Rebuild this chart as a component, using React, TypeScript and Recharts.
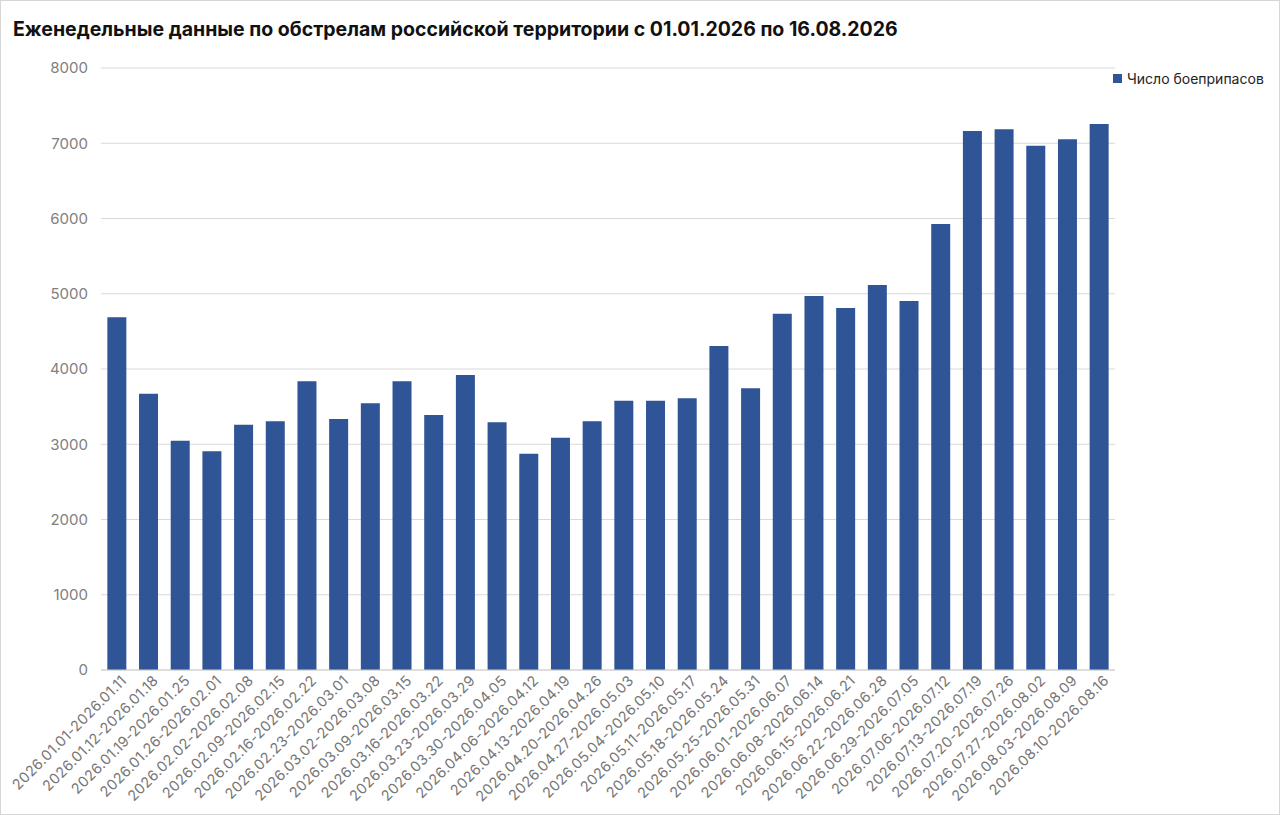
import { Bar, BarChart, CartesianGrid, XAxis, YAxis } from 'recharts';

const weeks = [
  '2026.01.01-2026.01.11',
  '2026.01.12-2026.01.18',
  '2026.01.19-2026.01.25',
  '2026.01.26-2026.02.01',
  '2026.02.02-2026.02.08',
  '2026.02.09-2026.02.15',
  '2026.02.16-2026.02.22',
  '2026.02.23-2026.03.01',
  '2026.03.02-2026.03.08',
  '2026.03.09-2026.03.15',
  '2026.03.16-2026.03.22',
  '2026.03.23-2026.03.29',
  '2026.03.30-2026.04.05',
  '2026.04.06-2026.04.12',
  '2026.04.13-2026.04.19',
  '2026.04.20-2026.04.26',
  '2026.04.27-2026.05.03',
  '2026.05.04-2026.05.10',
  '2026.05.11-2026.05.17',
  '2026.05.18-2026.05.24',
  '2026.05.25-2026.05.31',
  '2026.06.01-2026.06.07',
  '2026.06.08-2026.06.14',
  '2026.06.15-2026.06.21',
  '2026.06.22-2026.06.28',
  '2026.06.29-2026.07.05',
  '2026.07.06-2026.07.12',
  '2026.07.13-2026.07.19',
  '2026.07.20-2026.07.26',
  '2026.07.27-2026.08.02',
  '2026.08.03-2026.08.09',
  '2026.08.10-2026.08.16',
];

const ammo = [
  4687, 3672, 3047, 2906, 3260, 3305, 3837, 3336, 3544, 3837, 3389, 3920,
  3292, 2874, 3087, 3305, 3579, 3579, 3611, 4306, 3744, 4735, 4970, 4811,
  5116, 4904, 5927, 7163, 7185, 6967, 7052, 7256,
];

const yTicks = [0, 1000, 2000, 3000, 4000, 5000, 6000, 7000, 8000];

const data = weeks.map((name, i) => ({ name, ammo: ammo[i] }));

const FONT = 'Inter, "Noto Sans", sans-serif';
const BAR_COLOR = '#2f5597';

const WeekTick = (props: any) => {
  const { x, y, payload } = props;
  return (
    <g transform={`translate(${x},${y})`}>
      <text
        x={0}
        y={0}
        dy={10}
        dx={5}
        textAnchor="end"
        transform="rotate(-45)"
        fill="#767676"
        fontSize={14.5}
        letterSpacing={0.3}
        fontFamily={FONT}
      >
        {payload.value}
      </text>
    </g>
  );
};

export default function App() {
  return (
    <div
      style={{
        position: 'absolute',
        top: 0,
        left: 0,
        width: 1280,
        height: 815,
        boxSizing: 'border-box',
        border: '1px solid #d6d6d6',
        background: '#fff',
      }}
    >
      <div
        style={{
          position: 'absolute',
          left: 12,
          top: 16,
          fontFamily: FONT,
          fontWeight: 700,
          fontSize: 19.5,
          color: '#111',
          whiteSpace: 'nowrap',
        }}
      >
        Еженедельные данные по обстрелам российской территории с 01.01.2026 по 16.08.2026
      </div>
      <div
        style={{
          position: 'absolute',
          left: 1112,
          top: 69,
          display: 'flex',
          alignItems: 'center',
          fontFamily: FONT,
          fontSize: 14,
          color: '#222',
          whiteSpace: 'nowrap',
        }}
      >
        <span
          style={{
            width: 9,
            height: 9,
            background: BAR_COLOR,
            display: 'inline-block',
            marginRight: 5,
          }}
        />
        Число боеприпасов
      </div>
      <div style={{ position: 'absolute', left: -1, top: -1 }}>
        <BarChart
          width={1280}
          height={815}
          data={data}
          margin={{ top: 68, right: 165, bottom: 0, left: 0 }}
          barCategoryGap="20%"
        >
          <CartesianGrid vertical={false} stroke="#d9d9d9" />
          <XAxis
            dataKey="name"
            interval={0}
            tick={<WeekTick />}
            tickLine={false}
            axisLine={{ stroke: '#d0d0d0' }}
            height={145}
          />
          <YAxis
            width={101}
            domain={[0, 8000]}
            ticks={yTicks}
            tickLine={false}
            axisLine={false}
            tickSize={0}
            tickMargin={13}
            tick={{ fill: '#808080', fontSize: 15, fontFamily: FONT }}
          />
          <Bar dataKey="ammo" fill={BAR_COLOR} isAnimationActive={false} />
        </BarChart>
      </div>
    </div>
  );
}
